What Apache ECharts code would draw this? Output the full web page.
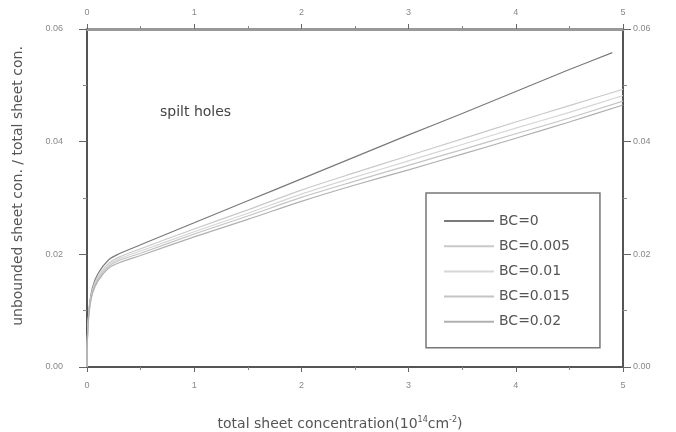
<!DOCTYPE html>
<html>
<head>
<meta charset="utf-8">
<script src="https://cdn.jsdelivr.net/npm/echarts@6/dist/echarts.min.js"></script>
<style>html,body{margin:0;padding:0;background:#fff;}#c{width:676px;height:432px;}</style>
</head>
<body>
<div id="c"></div>
<script>
const xBC0 = [0, 0.005, 0.02, 0.05, 0.1, 0.2, 0.3, 0.5, 1, 1.5, 2, 2.5, 3, 3.5, 4, 4.5, 4.9];
const xOthers = [0, 0.005, 0.02, 0.05, 0.1, 0.2, 0.3, 0.5, 1, 1.5, 2, 2.5, 3, 3.5, 4, 4.5, 5];
const seriesNames = ['BC=0', 'BC=0.005', 'BC=0.01', 'BC=0.015', 'BC=0.02'];
const yBC0    = [0, 0.0060, 0.0105, 0.0140, 0.0165, 0.0190, 0.0201, 0.0217, 0.0256, 0.0295, 0.0334, 0.0373, 0.0412, 0.0450, 0.0489, 0.0528, 0.0558];
const yBC005  = [0, 0.0058, 0.0102, 0.0136, 0.0160, 0.0184, 0.0195, 0.0210, 0.0245, 0.0279, 0.0314, 0.0345, 0.0375, 0.0405, 0.0435, 0.0464, 0.0493];
const yBC01   = [0, 0.0057, 0.0100, 0.0134, 0.0157, 0.0181, 0.0192, 0.0206, 0.0240, 0.0273, 0.0307, 0.0337, 0.0366, 0.0395, 0.0424, 0.0452, 0.0482];
const yBC015  = [0, 0.0056, 0.0099, 0.0132, 0.0155, 0.0178, 0.0189, 0.0202, 0.0236, 0.0268, 0.0301, 0.0330, 0.0358, 0.0386, 0.0414, 0.0442, 0.0472];
const yBC02   = [0, 0.0055, 0.0097, 0.0130, 0.0152, 0.0175, 0.0185, 0.0198, 0.0231, 0.0262, 0.0294, 0.0323, 0.0350, 0.0378, 0.0406, 0.0435, 0.0465];
const xTicks = [0, 1, 2, 3, 4, 5];
const yTicks = [0, 0.02, 0.04, 0.06];

const xs = [xBC0, xOthers, xOthers, xOthers, xOthers];
const ys = [yBC0, yBC005, yBC01, yBC015, yBC02];
const colors = ['#7a7a7a', '#c9c9c9', '#d6d6d6', '#c4c4c4', '#b0b0b0'];

const chart = echarts.init(document.getElementById('c'), null, {renderer: 'canvas'});
const font = 'Liberation Sans, Arial, sans-serif';
const wide = 'DejaVu Sans, sans-serif';
const labelStyle = {color: '#888', fontSize: 9, fontFamily: font};

function xAxisCfg(pos, lineW, lineC, margin) {
  return {
    type: 'value', position: pos, min: 0, max: 5, interval: 1,
    axisLine: {show: true, onZero: false, lineStyle: {color: lineC, width: lineW}},
    axisTick: {show: true, length: 5, lineStyle: {color: '#666', width: 1}},
    minorTick: {show: true, splitNumber: 2, length: 3, lineStyle: {color: '#888'}},
    axisLabel: Object.assign({margin: margin, formatter: v => String(v)}, labelStyle),
    splitLine: {show: false}
  };
}
function yAxisCfg(pos, margin) {
  return {
    type: 'value', position: pos, min: 0, max: 0.06, interval: 0.02,
    axisLine: {show: true, onZero: false, lineStyle: {color: '#555', width: 2}},
    axisTick: {show: true, length: 8, lineStyle: {color: '#666', width: 1}},
    minorTick: {show: true, splitNumber: 2, length: 4, lineStyle: {color: '#888'}},
    axisLabel: Object.assign({margin: margin, formatter: v => v.toFixed(2)}, labelStyle),
    splitLine: {show: false}
  };
}

const option = {
  backgroundColor: '#fff',
  animation: false,
  grid: {left: 87, right: 53, top: 29, bottom: 65},
  xAxis: [xAxisCfg('bottom', 2, '#555', 14), xAxisCfg('top', 3, '#999', 12)],
  yAxis: [yAxisCfg('left', 24), yAxisCfg('right', 10)],
  legend: {
    orient: 'vertical', left: 426, top: 193,
    padding: [21, 30, 19, 17], itemGap: 11.2, itemWidth: 50, itemHeight: 14,
    borderColor: '#777', borderWidth: 1.5,
    itemStyle: {opacity: 0},
    textStyle: {color: '#555', fontSize: 14, fontFamily: wide},
    data: seriesNames
  },
  graphic: [
    {type: 'text', x: 160, y: 112,
      style: {text: 'spilt holes', fill: '#444', font: '14px ' + wide, verticalAlign: 'middle'}},
    {type: 'text', x: 18, y: 186, rotation: Math.PI / 2,
      style: {text: 'unbounded sheet con. / total sheet con.', fill: '#555', font: '14px ' + wide, align: 'center', verticalAlign: 'middle'}},
    {type: 'text', x: 340, y: 424,
      style: {
        text: 'total sheet concentration(10{s|14}cm{s|-2})',
        fill: '#555', font: '14px ' + wide, align: 'center', verticalAlign: 'middle',
        rich: {s: {fontSize: 8, fill: '#555', fontFamily: wide, verticalAlign: 'top', padding: [0, 0, 9, 0]}}
      }}
  ],
  series: seriesNames.map((n, i) => ({
    name: n, type: 'line', symbol: 'none', smooth: 0.3,
    xAxisIndex: 0, yAxisIndex: 0,
    lineStyle: {color: colors[i], width: 1.2},
    itemStyle: {color: colors[i]},
    data: xs[i].map((x, j) => [x, ys[i][j]])
  }))
};
chart.setOption(option);
</script>
</body>
</html>
